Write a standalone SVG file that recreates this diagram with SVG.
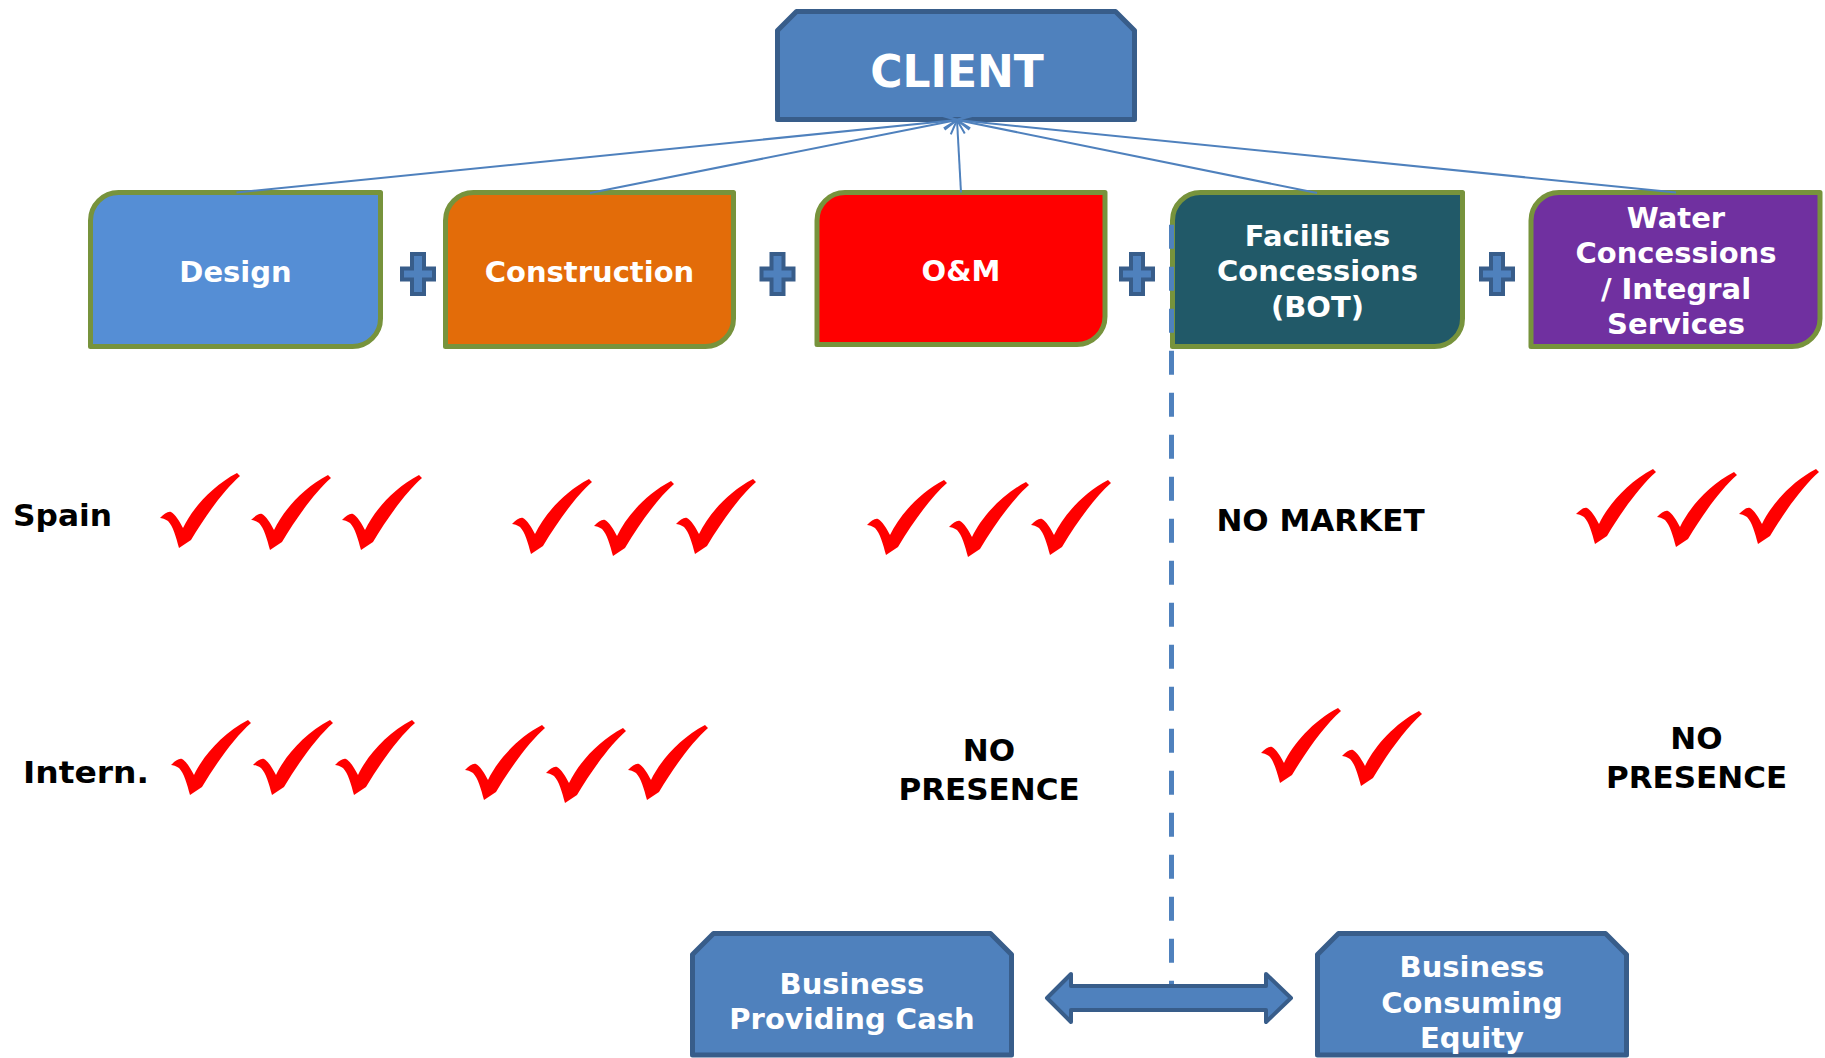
<svg xmlns="http://www.w3.org/2000/svg" xmlns:xlink="http://www.w3.org/1999/xlink" width="1825" height="1058" viewBox="0 0 1825 1058">
<style>
.blue{fill:#4F81BD;stroke:#385D8A;stroke-width:5;stroke-linejoin:round}
.svc{stroke:#77933C;stroke-width:5;stroke-linejoin:round}
.wt{fill:#FFFFFF;font-family:"DejaVu Sans",Verdana,sans-serif;font-weight:bold;font-size:29px;text-anchor:middle}
.bk{fill:#000000;font-family:"DejaVu Sans",Verdana,sans-serif;font-weight:bold;font-size:31px}
.mid{text-anchor:middle}
.link{stroke:#4F81BD;stroke-width:2;fill:none}
.plus{fill:#4F81BD;stroke:#385D8A;stroke-width:4;stroke-linejoin:miter}
.chk{fill:#FF0000}
</style>
<defs>
<marker id="open" viewBox="-16 -9 18 18" markerWidth="18" markerHeight="18" refX="0" refY="0" orient="auto" markerUnits="userSpaceOnUse">
<path d="M -14,-7 L 0,0 L -14,7" fill="none" stroke="#4F81BD" stroke-width="2"/>
</marker>
<path id="check" d="M 0,45 C 4,41 8,38 11,39 C 15,41 20,49 23,55 C 32,36 52,13 77,0 L 80,3 C 64,17 46,42 31,67 L 19,75 C 16,64 13,53 8,48 C 5,46 2,45 0,45 Z"/>
<path id="plus" d="M -6,-20 H 6 V -5.5 H 16 V 5.5 H 6 V 20 H -6 V 5.5 H -16 V -5.5 H -6 Z"/>
</defs>

<g id="client">
<path class="blue" d="M 796.5,11.5 H 1115.5 L 1134.5,30.5 V 119.5 H 777.5 V 30.5 Z"/>
<text class="wt" x="957" y="87" style="font-size:44px">CLIENT</text>
</g>

<g id="design">
<path class="svc" fill="#558ED5" d="M 118.5,192.5 H 380.5 V 318.5 A 28 28 0 0 1 352.5,346.5 H 90.5 V 220.5 A 28 28 0 0 1 118.5,192.5 Z"/>
<text class="wt" x="235.5" y="282">Design</text>
</g>

<g id="construction">
<path class="svc" fill="#E36C09" d="M 473.5,192.5 H 733.5 V 318.5 A 28 28 0 0 1 705.5,346.5 H 445.5 V 220.5 A 28 28 0 0 1 473.5,192.5 Z"/>
<text class="wt" x="589.5" y="282">Construction</text>
</g>

<g id="om">
<path class="svc" fill="#FF0000" d="M 845,192.5 H 1105 V 316.5 A 28 28 0 0 1 1077,344.5 H 817 V 220.5 A 28 28 0 0 1 845,192.5 Z"/>
<text class="wt" x="961" y="281">O&amp;M</text>
</g>

<g id="facilities">
<path class="svc" fill="#215968" d="M 1200.5,192.5 H 1462.5 V 318.5 A 28 28 0 0 1 1434.5,346.5 H 1172.5 V 220.5 A 28 28 0 0 1 1200.5,192.5 Z"/>
<text class="wt" x="1317.5" y="246">Facilities</text>
<text class="wt" x="1317.5" y="281">Concessions</text>
<text class="wt" x="1317.5" y="317">(BOT)</text>
</g>

<g id="water">
<path class="svc" fill="#7030A0" d="M 1559,192.5 H 1820 V 318.5 A 28 28 0 0 1 1792,346.5 H 1531 V 220.5 A 28 28 0 0 1 1559,192.5 Z"/>
<text class="wt" x="1676" y="228">Water</text>
<text class="wt" x="1676" y="263">Concessions</text>
<text class="wt" x="1676" y="299">/ Integral</text>
<text class="wt" x="1676" y="334">Services</text>
</g>

<g id="plus-signs">
<use xlink:href="#plus" class="plus" x="418" y="274"/>
<use xlink:href="#plus" class="plus" x="777.5" y="274"/>
<use xlink:href="#plus" class="plus" x="1137" y="274"/>
<use xlink:href="#plus" class="plus" x="1497" y="274"/>
</g>

<g id="connectors">
<line class="link" x1="236.5" y1="192.5" x2="957" y2="120" marker-end="url(#open)"/>
<line class="link" x1="590" y1="193" x2="957" y2="120" marker-end="url(#open)"/>
<line class="link" x1="961" y1="192.5" x2="957" y2="120" marker-end="url(#open)"/>
<line class="link" x1="1317" y1="193" x2="957" y2="120" marker-end="url(#open)"/>
<line class="link" x1="1676" y1="192.5" x2="957" y2="120" marker-end="url(#open)"/>
<line x1="1171.5" y1="224.7" x2="1171.5" y2="986" stroke="#4F81BD" stroke-width="5" stroke-dasharray="24 18"/>
<path class="blue" style="stroke-width:4" d="M 1047,998 L 1071,974 V 986 H 1266 V 974 L 1291,998 L 1266,1022 V 1010 H 1071 V 1022 Z"/>
</g>

<g id="cash">
<path class="blue" d="M 713.5,933.5 H 990.5 L 1011.5,954.5 V 1055 H 692.5 V 954.5 Z"/>
<text class="wt" x="852" y="994">Business</text>
<text class="wt" x="852" y="1029">Providing Cash</text>
</g>

<g id="equity">
<path class="blue" d="M 1338.5,933.5 H 1605.5 L 1626.5,954.5 V 1055 H 1317.5 V 954.5 Z"/>
<text class="wt" x="1472" y="977">Business</text>
<text class="wt" x="1472" y="1013">Consuming</text>
<text class="wt" x="1472" y="1048">Equity</text>
</g>

<g id="row-labels">
<text class="bk" x="13" y="526" textLength="99" lengthAdjust="spacingAndGlyphs">Spain</text>
<text class="bk" x="23" y="783" textLength="126" lengthAdjust="spacingAndGlyphs">Intern.</text>
<text class="bk mid" x="1320.5" y="531">NO MARKET</text>
<text class="bk mid" x="989" y="761">NO</text>
<text class="bk mid" x="989" y="800">PRESENCE</text>
<text class="bk mid" x="1696.5" y="749">NO</text>
<text class="bk mid" x="1696.5" y="788">PRESENCE</text>
</g>

<g id="checks" class="chk">
<use xlink:href="#check" x="160" y="473"/>
<use xlink:href="#check" x="251" y="475"/>
<use xlink:href="#check" x="342" y="475"/>
<use xlink:href="#check" x="512" y="479"/>
<use xlink:href="#check" x="594" y="481"/>
<use xlink:href="#check" x="676" y="479"/>
<use xlink:href="#check" x="867" y="480"/>
<use xlink:href="#check" x="949" y="482"/>
<use xlink:href="#check" x="1031" y="480"/>
<use xlink:href="#check" x="1576" y="469"/>
<use xlink:href="#check" x="1657" y="472"/>
<use xlink:href="#check" x="1739" y="469"/>
<use xlink:href="#check" x="171" y="720"/>
<use xlink:href="#check" x="253" y="720"/>
<use xlink:href="#check" x="335" y="720"/>
<use xlink:href="#check" x="465" y="725"/>
<use xlink:href="#check" x="546" y="728"/>
<use xlink:href="#check" x="628" y="725"/>
<use xlink:href="#check" x="1261" y="708"/>
<use xlink:href="#check" x="1342" y="711"/>
</g>
</svg>
